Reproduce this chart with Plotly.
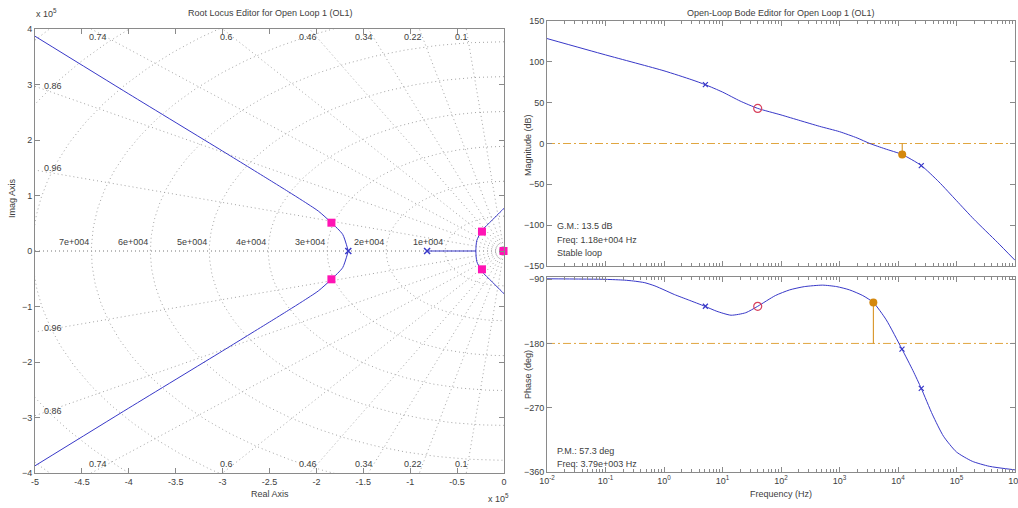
import numpy as np
import plotly.graph_objects as go

# ---------------- Root locus data (real/imag in units of 1e5) ----------------
rl_upper_re = [-5.0, -4.0, -3.0, -2.5, -2.3, -2.15, -1.98, -1.84, -1.72, -1.66]
rl_upper_im = [3.87, 2.83, 1.80, 1.28, 1.07, 0.91, 0.72, 0.51, 0.30, 0.0]
rl_lower_re = [-5.0, -4.0, -3.0, -2.5, -2.3, -2.15, -1.98, -1.84, -1.72, -1.66]
rl_lower_im = [-3.87, -2.83, -1.80, -1.28, -1.07, -0.91, -0.72, -0.51, -0.30, 0.0]
rl_axis_re = [-0.82, -0.30]
rl_axis_im = [0.0, 0.0]
rl_near_re = [0.03, 0.0, -0.13, -0.235, -0.29, -0.30, -0.29, -0.235, -0.13, 0.0, 0.03]
rl_near_im = [0.82, 0.77, 0.55, 0.37, 0.19, 0.0, -0.19, -0.37, -0.55, -0.77, -0.82]
ol_pole_re = [-1.66, -0.82, 0.0]
ol_pole_im = [0.0, 0.0, 0.0]
cl_pole_re = [-1.84, -1.84, -0.235, -0.235, -0.005]
cl_pole_im = [0.51, -0.51, 0.35, -0.33, 0.0]

zeta_vals = [0.1, 0.22, 0.34, 0.46, 0.6, 0.74, 0.86, 0.96]
wn_hz = [1e4, 2e4, 3e4, 4e4, 5e4, 6e4, 7e4, 8e4, 9e4, 1e5]
wn_labels = ["1e+004", "2e+004", "3e+004", "4e+004", "5e+004", "6e+004", "7e+004"]

rl_xticks = [-5, -4.5, -4, -3.5, -3, -2.5, -2, -1.5, -1, -0.5, 0]
rl_xticktext = ["-5", "-4.5", "-4", "-3.5", "-3", "-2.5", "-2", "-1.5", "-1", "-0.5", "0"]
rl_yticks = [-4, -3, -2, -1, 0, 1, 2, 3, 4]

# ---------------- Bode data ----------------
mag_freq = [0.01, 0.1, 1, 3, 5.1, 10, 20, 40, 100, 213, 457, 1000, 2000, 3300,
            6000, 11800, 25000, 50000, 100000, 200000, 500000, 1000000]
mag_db = [128.5, 108.5, 89, 78, 72, 63, 52, 43, 35, 28, 21, 14.5, 6.8, 0,
          -6.5, -13.5, -27, -47, -70, -93, -121, -143]
ph_freq = [0.01, 0.1, 0.21, 0.3, 0.47, 0.7, 1.0, 1.5, 2.6, 5.0, 8, 14, 25, 40, 80,
           141, 250, 513, 900, 1480, 2500, 3790, 6300, 11700, 18000, 25000, 39000,
           60000, 100000, 186000, 363000, 1000000]
ph_deg = [-89.5, -90.3, -91.4, -92.6, -95, -99.5, -105, -111.5, -119, -128, -135,
          -140.5, -137, -128, -113, -105, -100.5, -98.4, -100.5, -105, -113, -122.7,
          -147, -188, -218, -243, -280, -310, -332, -345, -352, -357]

pole_freq = [5.1, 11700, 25000]
pole_mag = [72, -13, -27]
pole_ph = [-128, -188, -243]
zero_freq = [40]
zero_mag = [43]
zero_ph = [-128]

gm_freq = 11800
gm_db = 13.5
pm_freq = 3790
pm_deg = 57.3

bode_xticks = [1e-2, 1e-1, 1e0, 1e1, 1e2, 1e3, 1e4, 1e5, 1e6]
bode_xticktext = ["10<sup>-2</sup>", "10<sup>-1</sup>", "10<sup>0</sup>", "10<sup>1</sup>",
                  "10<sup>2</sup>", "10<sup>3</sup>", "10<sup>4</sup>", "10<sup>5</sup>",
                  "10<sup>6</sup>"]
mag_yticks = [-150, -100, -50, 0, 50, 100, 150]
ph_yticks = [-360, -270, -180, -90]

# ---------------- styles ----------------
BLUE = "#3838c8"
PINK = "#ff14b4"
RED = "#d8405c"
ORANGE = "#d4880e"
DASHC = "#e0a640"
GRIDC = "#a4a4a4"
AXC = "#8a8a8a"
TXT = "#404040"
FONT = "Liberation Sans, Arial, sans-serif"
FS = 9

W, H = 1018, 508

fig = go.Figure()

# ---- grid for root locus ----
gx, gy = [], []
for z in zeta_vals + [1.0]:
    s = np.sqrt(max(0.0, 1 - z * z))
    R = 12.0
    gx += [0, -z * R, None, 0, -z * R, None]
    gy += [0, s * R, None, 0, -s * R, None]
th = np.linspace(np.pi / 2, 3 * np.pi / 2, 241)
for f in wn_hz:
    r = 2 * np.pi * f / 1e5
    gx += list(r * np.cos(th)) + [None]
    gy += list(r * np.sin(th)) + [None]
fig.add_trace(go.Scatter(x=gx, y=gy, mode="lines", xaxis="x", yaxis="y",
                         line=dict(color=GRIDC, width=1, dash="1px,3px"),
                         hoverinfo="skip", showlegend=False))

# ---- locus branches ----
for xs, ys, shp in [(rl_upper_re, rl_upper_im, "spline"), (rl_lower_re, rl_lower_im, "spline"),
                    (rl_axis_re, rl_axis_im, "linear"), (rl_near_re, rl_near_im, "spline")]:
    fig.add_trace(go.Scatter(x=xs, y=ys, mode="lines", xaxis="x", yaxis="y",
                             line=dict(color=BLUE, width=1, shape=shp, smoothing=0.6),
                             showlegend=False))
fig.add_trace(go.Scatter(x=ol_pole_re, y=ol_pole_im, mode="markers", xaxis="x", yaxis="y",
                         marker=dict(symbol="x-thin", size=6, color=BLUE,
                                     line=dict(color=BLUE, width=1.5)),
                         showlegend=False))
fig.add_trace(go.Scatter(x=cl_pole_re, y=cl_pole_im, mode="markers", xaxis="x", yaxis="y",
                         marker=dict(symbol="square", size=8, color=PINK),
                         cliponaxis=False, showlegend=False))

# ---- magnitude ----
fig.add_trace(go.Scatter(x=[1e-2, 1e6], y=[0, 0], mode="lines", xaxis="x2", yaxis="y2",
                         line=dict(color=DASHC, width=1, dash="8px,3px,2px,3px"), showlegend=False))
fig.add_trace(go.Scatter(x=mag_freq, y=mag_db, mode="lines", xaxis="x2", yaxis="y2",
                         line=dict(color=BLUE, width=1, shape="spline", smoothing=0.6),
                         showlegend=False))
fig.add_trace(go.Scatter(x=pole_freq, y=pole_mag, mode="markers", xaxis="x2", yaxis="y2",
                         marker=dict(symbol="x-thin", size=5, color=BLUE,
                                     line=dict(color=BLUE, width=1.2)),
                         showlegend=False))
fig.add_trace(go.Scatter(x=zero_freq, y=zero_mag, mode="markers", xaxis="x2", yaxis="y2",
                         marker=dict(symbol="circle-open", size=8, color=RED,
                                     line=dict(color=RED, width=1.2)),
                         showlegend=False))
fig.add_trace(go.Scatter(x=[gm_freq, gm_freq], y=[0, -gm_db], mode="lines", xaxis="x2", yaxis="y2",
                         line=dict(color=ORANGE, width=1), showlegend=False))
fig.add_trace(go.Scatter(x=[gm_freq], y=[-gm_db], mode="markers", xaxis="x2", yaxis="y2",
                         marker=dict(symbol="circle", size=8, color=ORANGE), showlegend=False))

# ---- phase ----
fig.add_trace(go.Scatter(x=[1e-2, 1e6], y=[-180, -180], mode="lines", xaxis="x3", yaxis="y3",
                         line=dict(color=DASHC, width=1, dash="8px,3px,2px,3px"), showlegend=False))
fig.add_trace(go.Scatter(x=ph_freq, y=ph_deg, mode="lines", xaxis="x3", yaxis="y3",
                         line=dict(color=BLUE, width=1, shape="spline", smoothing=0.6),
                         showlegend=False))
fig.add_trace(go.Scatter(x=pole_freq, y=pole_ph, mode="markers", xaxis="x3", yaxis="y3",
                         marker=dict(symbol="x-thin", size=5, color=BLUE,
                                     line=dict(color=BLUE, width=1.2)),
                         showlegend=False))
fig.add_trace(go.Scatter(x=zero_freq, y=zero_ph, mode="markers", xaxis="x3", yaxis="y3",
                         marker=dict(symbol="circle-open", size=8, color=RED,
                                     line=dict(color=RED, width=1.2)),
                         showlegend=False))
fig.add_trace(go.Scatter(x=[pm_freq, pm_freq], y=[-180, -180 + pm_deg], mode="lines", xaxis="x3", yaxis="y3",
                         line=dict(color=ORANGE, width=1), showlegend=False))
fig.add_trace(go.Scatter(x=[pm_freq], y=[-180 + pm_deg], mode="markers", xaxis="x3", yaxis="y3",
                         marker=dict(symbol="circle", size=8, color=ORANGE), showlegend=False))


def px(x):
    return x / W


def py(y):
    return 1 - y / H


axcommon = dict(showgrid=False, zeroline=False, showline=True, linecolor=AXC, linewidth=1,
                mirror="ticks", ticks="inside", ticklen=5, tickcolor=AXC, automargin=False,
                ticklabeloverflow="allow",
                tickfont=dict(family=FONT, size=FS, color=TXT))

minor_vals = [m * 10.0 ** e for e in range(-2, 6) for m in range(2, 10)]

fig.update_layout(
    template="none",
    width=W, height=H, margin=dict(l=0, r=0, t=0, b=0, pad=0),
    paper_bgcolor="white", plot_bgcolor="white", showlegend=False,
    font=dict(family=FONT, size=FS, color=TXT),
    xaxis=dict(domain=[px(35), px(504)], range=[-5, 0], tickmode="array",
               tickvals=rl_xticks, ticktext=rl_xticktext, anchor="y", **axcommon),
    yaxis=dict(domain=[py(473), py(29)], range=[-4, 4], tickmode="array",
               tickvals=rl_yticks, anchor="x", **axcommon),
    xaxis2=dict(domain=[px(547), px(1015)], type="log", range=[-2, 6], tickmode="array",
                tickvals=bode_xticks, showticklabels=False, anchor="y2",
                minor=dict(tickmode="array", tickvals=minor_vals, ticks="inside", ticklen=3,
                           tickcolor=AXC, showgrid=False),
                **axcommon),
    yaxis2=dict(domain=[py(266), py(21)], range=[-150, 150], tickmode="array",
                tickvals=mag_yticks, anchor="x2", **axcommon),
    xaxis3=dict(domain=[px(547), px(1015)], type="log", range=[-2, 6], tickmode="array",
                tickvals=bode_xticks, ticktext=bode_xticktext, anchor="y3",
                minor=dict(tickmode="array", tickvals=minor_vals, ticks="inside", ticklen=3,
                           tickcolor=AXC, showgrid=False),
                **axcommon),
    yaxis3=dict(domain=[py(472), py(277)], range=[-360, -87], tickmode="array",
                tickvals=ph_yticks, anchor="x3", **axcommon),
)

ann = []


def txt(x, y, t, xa="center", ya="middle", angle=0, size=FS, ref="paper", xref=None, yref=None):
    d = dict(text=t, showarrow=False, xanchor=xa, yanchor=ya, textangle=angle,
             font=dict(family=FONT, size=size, color=TXT))
    if ref == "paper":
        d.update(x=px(x), y=py(y), xref="paper", yref="paper")
    else:
        d.update(x=x, y=y, xref=xref, yref=yref)
    ann.append(d)


txt(270, 13, "Root Locus Editor for Open Loop 1 (OL1)")
txt(781, 13, "Open-Loop Bode Editor for Open Loop 1 (OL1)")
txt(270, 494, "Real Axis")
txt(781, 494, "Frequency (Hz)")
txt(12, 198, "Imag Axis", angle=-90)
txt(528, 145, "Magnitude (dB)", angle=-90)
txt(528, 375, "Phase (deg)", angle=-90)
txt(34, 13, "x 10<sup>5</sup>", xa="left")
txt(486, 498, "x 10<sup>5</sup>", xa="left")

# grid labels in root locus
for f, lab in zip(wn_hz, wn_labels):
    r = 2 * np.pi * f / 1e5
    txt(-r, 0.03, lab, xa="right", ya="bottom", ref="data", xref="x", yref="y")
for z in zeta_vals:
    s = np.sqrt(1 - z * z)
    xt = -3.85 * z / s
    lab = ("%.2f" % z).rstrip("0").rstrip(".")
    if xt > -4.9:
        txt(xt + 0.02, 3.85, lab, xa="right", ya="middle", ref="data", xref="x", yref="y")
        txt(xt + 0.02, -3.83, lab, xa="right", ya="middle", ref="data", xref="x", yref="y")
    else:
        yl = 4.93 * s / z
        txt(-4.93, yl + 0.05, lab, xa="left", ya="middle", ref="data", xref="x", yref="y")
        txt(-4.93, -yl + 0.05, lab, xa="left", ya="middle", ref="data", xref="x", yref="y")

# margin texts
txt(555, 226, "G.M.: 13.5 dB", xa="left")
txt(555, 240, "Freq: 1.18e+004 Hz", xa="left")
txt(555, 253, "Stable loop", xa="left")
txt(555, 451, "P.M.: 57.3 deg", xa="left")
txt(555, 464, "Freq: 3.79e+003 Hz", xa="left")

fig.update_layout(annotations=ann)

fig.write_html("out.html", config={"displayModeBar": False},
               post_script="document.body.style.margin='0px';")
